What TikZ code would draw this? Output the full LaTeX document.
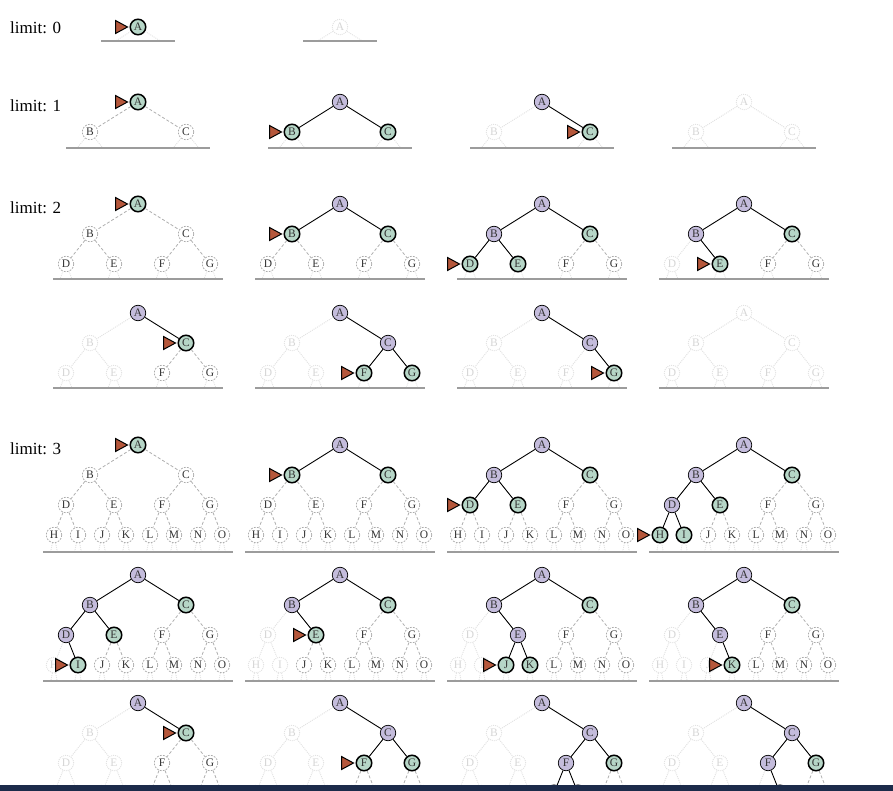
\documentclass[tikz,border=0pt]{standalone}
\usepackage{fontspec}
\setmainfont{Liberation Serif}
\usetikzlibrary{calc}
\definecolor{gfill}{HTML}{B6D6C7}
\definecolor{pfill}{HTML}{C4BCDC}
\definecolor{ptrc}{HTML}{B5573B}
\definecolor{dgray}{HTML}{ABABAB}
\definecolor{fgray}{HTML}{E2E2E2}
\definecolor{ftext}{HTML}{D6D6D6}
\definecolor{bgray}{HTML}{9C9C9C}
\definecolor{barc}{HTML}{1C2B4A}
\tikzset{
  tn/.style={circle, minimum size=15.5pt, inner sep=0pt, font=\fontsize{11.5}{13}\selectfont},
  nc/.style={tn, draw=black, line width=1.5pt, fill=gfill, text=black!80},
  nf/.style={nc},
  nv/.style={tn, draw=black, line width=0.7pt, fill=pfill, text=black!80},
  nu/.style={tn, draw=dgray, dash pattern=on 1.8pt off 1.3pt, line width=0.75pt, fill=white, text=black!80},
  nx/.style={tn, draw=fgray, dash pattern=on 1pt off 1pt, line width=0.9pt, fill=white, text=ftext},
  ec/.style={draw=black, line width=0.9pt},
  ef/.style={ec}, ev/.style={ec},
  eu/.style={draw=dgray, dash pattern=on 3pt off 2pt, line width=0.75pt},
  ex/.style={draw=fgray, dash pattern=on 1pt off 1pt, line width=1pt},
  es/.style={draw=fgray, dash pattern=on 1pt off 1pt, line width=0.9pt},
  ptr/.style={draw=black, fill=ptrc, line width=1pt, line join=miter},
  bline/.style={draw=bgray, line width=2.2pt},
  lbl/.style={font=\fontsize{17}{20}\selectfont, anchor=west, inner sep=0pt},
}
\newcommand{\lettr}[1]{\ifcase#1\or A\or B\or C\or D\or E\or F\or G\or H\or I\or J\or K\or L\or M\or N\or O\fi}
% #1 name, #2 cx, #3 cy, #4 depth, #5 baseline y, #6 states
\newcommand{\drawtree}[6]{%
  \pgfmathtruncatemacro{\nmax}{2^(#4+1)-1}%
  \foreach \s [count=\i] in {#6} {%
    \ifnum\i<2 \def\lev{0}\else\ifnum\i<4 \def\lev{1}\else\ifnum\i<8 \def\lev{2}\else\def\lev{3}\fi\fi\fi
    \pgfmathsetmacro{\nx}{#2+(\i-2^\lev+0.5)*192/(2^\lev)-96}%
    \pgfmathsetmacro{\ny}{#3+30*\lev}%
    \pgfmathtruncatemacro{\vis}{\ny<780 ? 1 : 0}%
    \edef\tmp{\noexpand\node[n\s] (#1-\i) at (\nx,\ny) {\ifnum\vis=1 \noexpand\lettr{\i}\fi};}\tmp
    \expandafter\xdef\csname st#1-\i\endcsname{\s}%
    \if c\s \draw[ptr] ([xshift=-2pt]#1-\i.west) -- ++(-12,-6.5) -- ++(0,13) -- cycle; \fi
  }%
  \ifnum\nmax>1
  \foreach \i in {2,...,\nmax} {%
    \pgfmathtruncatemacro{\pidx}{floor(\i/2)}%
    \edef\tmp{\noexpand\draw[e\csname st#1-\i\endcsname] (#1-\pidx) -- (#1-\i);}\tmp
  }%
  \fi
  \begin{scope}
    \clip (#2-120,#3-20) rectangle (#2+120,#5);
    \pgfmathtruncatemacro{\lo}{2^#4}%
    \pgfmathsetmacro{\off}{192/(2^(#4+2))}%
    \foreach \i in {\lo,...,\nmax} {%
      \coordinate (#1-\i-a) at ($(#1-\i)+(-\off,30)$);
      \coordinate (#1-\i-b) at ($(#1-\i)+(\off,30)$);
      \draw[es] (#1-\i) -- (#1-\i-a);
      \draw[es] (#1-\i) -- (#1-\i-b);
    }%
  \end{scope}
  \edef\bw{\ifcase#4 37\or 72\or 85\or 95\fi}%
  \draw[bline] (#2-\bw,#5) -- (#2+\bw,#5);
}
\begin{document}
\begin{tikzpicture}[x=1pt,y=-1pt]
\useasboundingbox (0,0) rectangle (893,791);
% labels
\node[lbl] (lab0) at (10,28) {limit: 0};
\node[lbl] (lab1) at (10,106) {limit: 1};
\node[lbl] (lab2) at (10,208) {limit: 2};
\node[lbl] (lab3) at (10,449) {limit: 3};
% limit 0
\drawtree{za}{138}{27}{0}{41}{c}
\drawtree{zb}{340}{27}{0}{41}{x}
% limit 1
\drawtree{oa}{138}{102}{1}{148}{c,u,u}
\drawtree{ob}{340}{102}{1}{148}{v,c,f}
\drawtree{oc}{542}{102}{1}{148}{v,x,c}
\drawtree{od}{744}{102}{1}{148}{x,x,x}
% limit 2 row 1
\drawtree{ta}{138}{204}{2}{279}{c,u,u,u,u,u,u}
\drawtree{tb}{340}{204}{2}{279}{v,c,f,u,u,u,u}
\drawtree{tc}{542}{204}{2}{279}{v,v,f,c,f,u,u}
\drawtree{td}{744}{204}{2}{279}{v,v,f,x,c,u,u}
% limit 2 row 2
\drawtree{te}{138}{313}{2}{388}{v,x,c,x,x,u,u}
\drawtree{tf}{340}{313}{2}{388}{v,x,v,x,x,c,f}
\drawtree{tg}{542}{313}{2}{388}{v,x,v,x,x,x,c}
\drawtree{th}{744}{313}{2}{388}{x,x,x,x,x,x,x}
% limit 3 row 1
\drawtree{ra}{138}{445}{3}{552}{c,u,u,u,u,u,u,u,u,u,u,u,u,u,u}
\drawtree{rb}{340}{445}{3}{552}{v,c,f,u,u,u,u,u,u,u,u,u,u,u,u}
\drawtree{rc}{542}{445}{3}{552}{v,v,f,c,f,u,u,u,u,u,u,u,u,u,u}
\drawtree{rd}{744}{445}{3}{552}{v,v,f,v,f,u,u,c,f,u,u,u,u,u,u}
% limit 3 row 2
\drawtree{re}{138}{575}{3}{681}{v,v,f,v,f,u,u,x,c,u,u,u,u,u,u}
\drawtree{rf}{340}{575}{3}{681}{v,v,f,x,c,u,u,x,x,u,u,u,u,u,u}
\drawtree{rg}{542}{575}{3}{681}{v,v,f,x,v,u,u,x,x,c,f,u,u,u,u}
\drawtree{rh}{744}{575}{3}{681}{v,v,f,x,v,u,u,x,x,x,c,u,u,u,u}
% limit 3 row 3
\drawtree{ri}{138}{703}{3}{810}{v,x,c,x,x,u,u,x,x,x,x,u,u,u,u}
\drawtree{rj}{340}{703}{3}{810}{v,x,v,x,x,c,f,x,x,x,x,u,u,u,u}
\drawtree{rk}{542}{703}{3}{810}{v,x,v,x,x,v,f,x,x,x,x,c,f,u,u}
\drawtree{rl}{744}{703}{3}{810}{v,x,v,x,x,v,f,x,x,x,x,x,c,u,u}
% bottom bar
\fill[barc] (0,785) rectangle (893,791);
\end{tikzpicture}
\end{document}
